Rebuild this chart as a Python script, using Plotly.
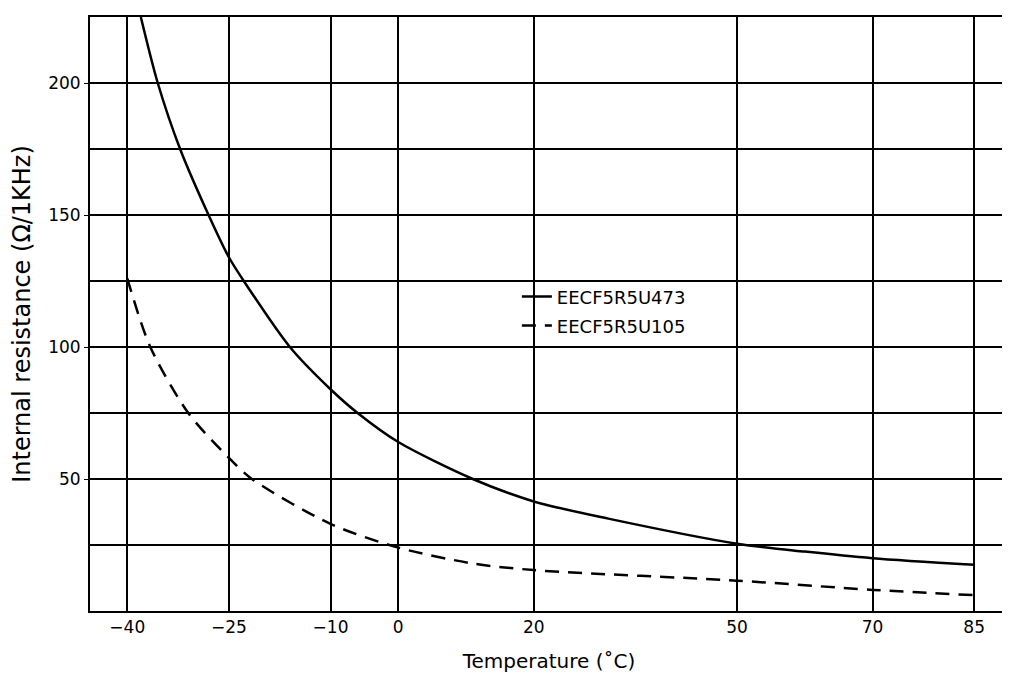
import plotly.graph_objects as go

# Data
temp_473 = [-38, -35.5, -32.2, -28, -25, -22.8, -16, -10, -6, 0, 11, 20, 31, 50, 60, 70, 85]
res_473 = [225, 200, 175, 150, 134, 125, 100, 84, 75, 64, 50, 41.5, 35, 25.5, 22.5, 20, 17.5]

temp_105 = [-40, -36.6, -31, -25, -21.6, -10, 0, 11, 20, 50, 70, 85]
res_105 = [126, 100, 75, 58, 50, 33, 24, 18, 15.5, 11.5, 8, 6]

x_tickvals = [-40, -25, -10, 0, 20, 50, 70, 85]
x_ticktext = ["\u221240", "\u221225", "\u221210", "0", "20", "50", "70", "85"]
y_tickvals = [50, 100, 150, 200]

series_names = ["EECF5R5U473", "EECF5R5U105"]

FONT = "DejaVu Sans"

fig = go.Figure()
fig.add_trace(go.Scatter(
    x=temp_473, y=res_473, mode="lines", name=series_names[0],
    line=dict(color="black", width=2.5, shape="spline", smoothing=0.8),
    legend="legend", showlegend=True,
))
fig.add_trace(go.Scatter(
    x=temp_105, y=res_105, mode="lines", name=series_names[1],
    line=dict(color="black", width=2.5, dash="14px,9px", shape="spline", smoothing=0.8),
    legend="legend2", showlegend=True,
))

legend_style = dict(bgcolor="rgba(0,0,0,0)", borderwidth=0,
                    font=dict(family=FONT, size=18, color="black"),
                    xanchor="left", yanchor="middle")

fig.update_layout(
    width=1010, height=684,
    margin=dict(l=82, r=10, t=9, b=81),
    paper_bgcolor="white", plot_bgcolor="white",
    font=dict(family=FONT, color="black", size=17),
    showlegend=True,
    legend=dict(x=0.465, y=0.529, **legend_style),
    legend2=dict(x=0.465, y=0.480, **legend_style),
    xaxis=dict(
        range=[-45.5, 90], automargin=False,
        tickmode="array", tickvals=x_tickvals, ticktext=x_ticktext,
        showgrid=True, gridcolor="black", gridwidth=1.5,
        showline=True, linecolor="black", linewidth=2, mirror=True,
        zeroline=False, ticks="", tickfont=dict(size=17),
        title=dict(text="Temperature (\u02daC)", font=dict(size=20), standoff=18),
    ),
    yaxis=dict(
        range=[0, 225], automargin=False,
        tickmode="array", tickvals=y_tickvals,
        showgrid=True, gridcolor="black", gridwidth=1.5,
        minor=dict(dtick=25, tick0=0, showgrid=True, gridcolor="black", gridwidth=1.5),
        showline=True, linecolor="black", linewidth=2, mirror=True,
        zeroline=False, ticks="outside", ticklen=4, tickcolor="black",
        tickfont=dict(size=17),
        title=dict(text="Internal resistance (\u03a9/1KHz)", font=dict(size=24), standoff=18),
    ),
)

fig.write_html("out.html")
